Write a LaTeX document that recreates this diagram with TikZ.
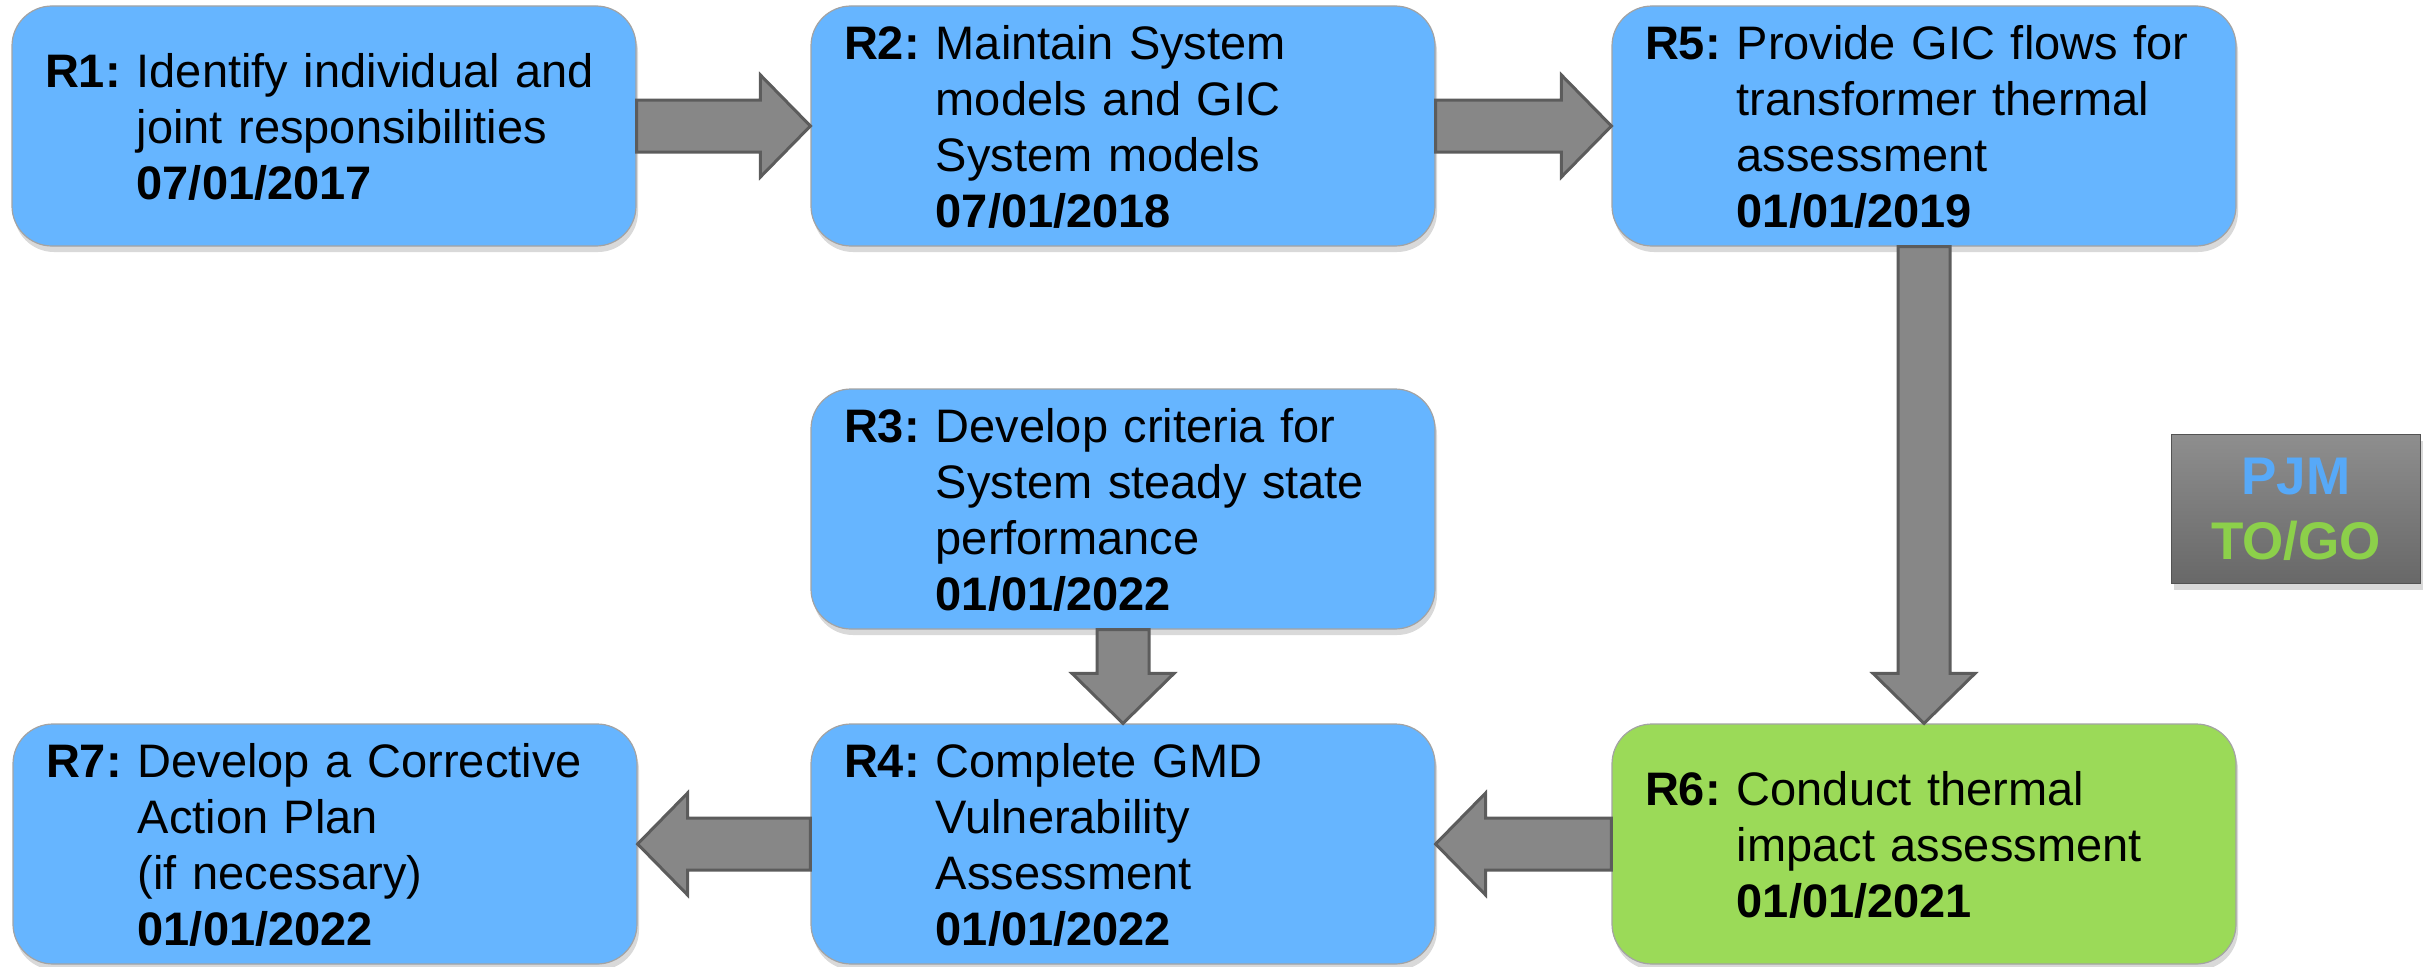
\documentclass[tikz,border=0pt]{standalone}
\usepackage{fontspec}
\setmainfont{Liberation Sans}
\usetikzlibrary{calc,shadows}
\definecolor{boxblue}{HTML}{66B5FF}
\definecolor{boxgreen}{HTML}{9BDA58}
\definecolor{edgegray}{HTML}{A3A3A3}
\definecolor{arrdark}{HTML}{5C5C5C}
\definecolor{arrmid}{HTML}{878787}
\definecolor{pjmblue}{HTML}{57A9F8}
\definecolor{pjmgreen}{HTML}{8CD04A}
\definecolor{pjmtop}{HTML}{8E8E8E}
\definecolor{pjmbot}{HTML}{686868}
\newcommand\reqtext[2]{\textbf{#1}\hspace{16pt}\begin{tabular}[t]{@{}l@{}}\rule{0pt}{51pt}#2\end{tabular}}
% block arrow from #1 to #2 (named anchors)
\newcommand\blockarrow[2]{%
  \filldraw[arrowbody]
    ($#1!26pt!90:#2$) --
    ($($#2!50pt!#1$)!26pt!-90:#1$) --
    ($($#2!50pt!#1$)!51pt!-90:#1$) --
    #2 --
    ($($#2!50pt!#1$)!51pt!90:#1$) --
    ($($#2!50pt!#1$)!26pt!90:#1$) --
    ($#1!26pt!-90:#2$) -- cycle;}
\tikzset{
  reqbox/.style={draw=edgegray, line width=1.2pt, rounded corners=40pt,
    fill=boxblue, minimum width=624pt, minimum height=240pt,
    text width=558pt, inner xsep=33pt, inner ysep=0pt, align=left,
    font=\fontsize{47}{56}\selectfont,
    drop shadow={shadow xshift=2pt, shadow yshift=-6pt, opacity=0.3}},
  greenbox/.style={reqbox, fill=boxgreen},
  arrowbody/.style={fill=arrmid, draw=arrdark, line width=3pt, line join=miter},
  pjmbox/.style={draw=pjmbot!80!black, line width=1pt, top color=pjmtop,
    bottom color=pjmbot, minimum width=249pt, minimum height=149pt,
    align=center, font=\fontsize{53}{65}\selectfont\bfseries,
    drop shadow={shadow xshift=2pt, shadow yshift=-6pt, opacity=0.3}}
}
\begin{document}
\begin{tikzpicture}[x=1pt,y=-1pt]
\useasboundingbox (0,0) rectangle (2435,966);
\node[reqbox] (r1) at (324,126) {\reqtext{R1:}{Identify individual and\\joint responsibilities\\\textbf{07/01/2017}}};
\node[reqbox] (r2) at (1123,126) {\reqtext{R2:}{Maintain System\\models and GIC\\System models\\\textbf{07/01/2018}}};
\node[reqbox] (r5) at (1924,126) {\reqtext{R5:}{Provide GIC flows for\\transformer thermal\\assessment\\\textbf{01/01/2019}}};
\node[reqbox] (r3) at (1123,509) {\reqtext{R3:}{Develop criteria for\\System steady state\\performance\\\textbf{01/01/2022}}};
\node[reqbox] (r4) at (1123,844) {\reqtext{R4:}{Complete GMD\\Vulnerability\\Assessment\\\textbf{01/01/2022}}};
\node[reqbox] (r7) at (325,844) {\reqtext{R7:}{Develop a Corrective\\Action Plan\\(if necessary)\\\textbf{01/01/2022}}};
\node[greenbox] (r6) at (1924,844) {\reqtext{R6:}{Conduct thermal\\impact assessment\\\textbf{01/01/2021}}};
\node[pjmbox] (pjm) at (2296,509) {\textcolor{pjmblue}{PJM}\\\textcolor{pjmgreen}{TO/GO}};
\blockarrow{(r1.east)}{(r2.west)}
\blockarrow{(r2.east)}{(r5.west)}
\blockarrow{(r5.south)}{(r6.north)}
\blockarrow{(r6.west)}{(r4.east)}
\blockarrow{(r4.west)}{(r7.east)}
\blockarrow{(r3.south)}{(r4.north)}
\end{tikzpicture}
\end{document}
